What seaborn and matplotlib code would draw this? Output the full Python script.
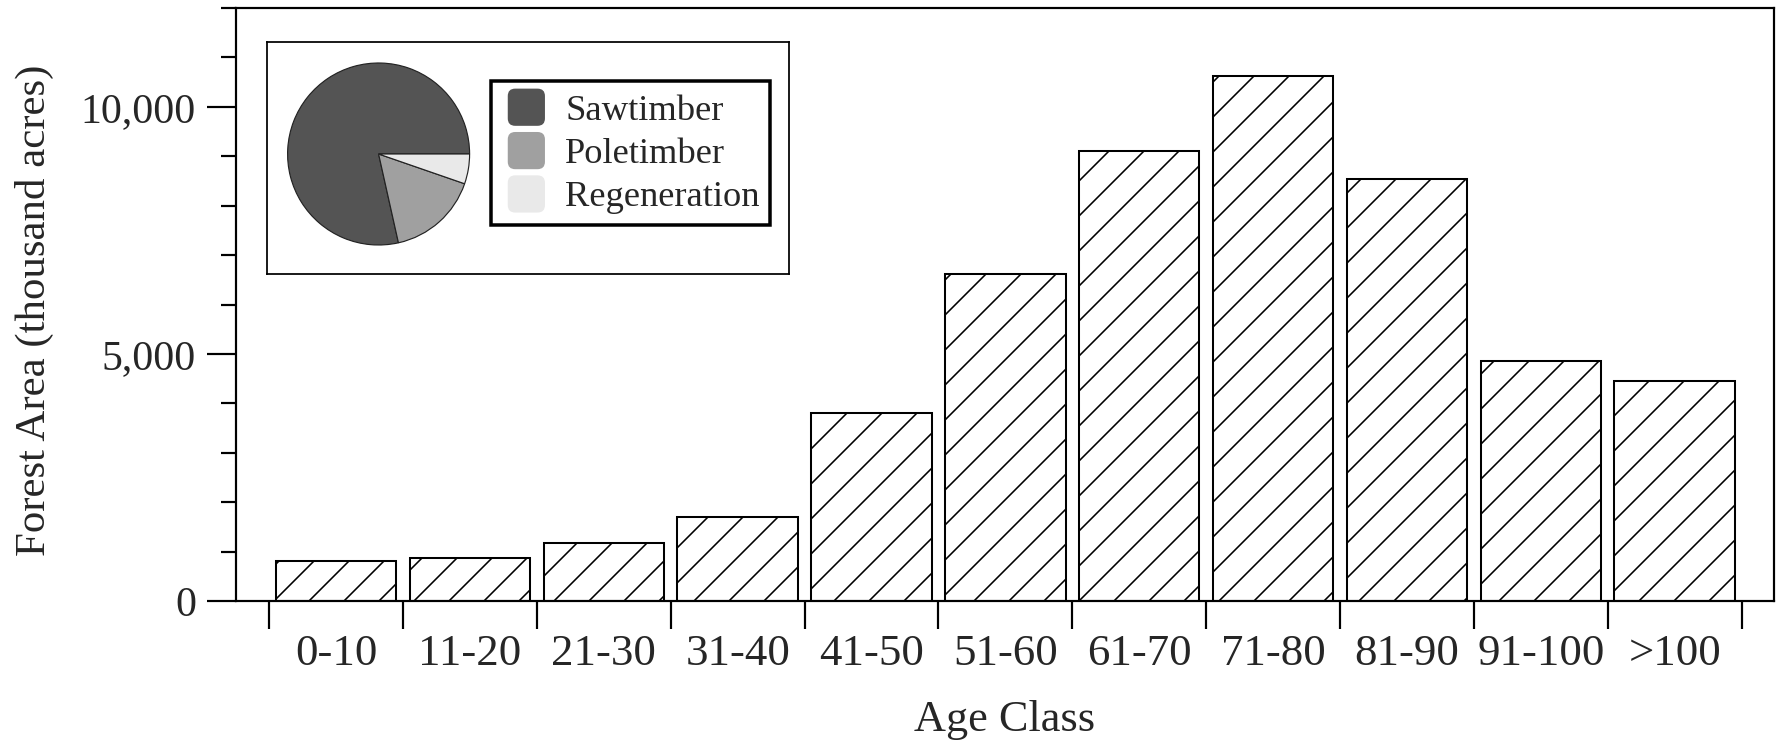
import numpy as np
import pandas as pd
import matplotlib
matplotlib.use("Agg")
import matplotlib.pyplot as plt
import seaborn as sns
from matplotlib.patches import Patch, FancyBboxPatch
from matplotlib.legend_handler import HandlerBase
from matplotlib.ticker import FixedLocator, FuncFormatter

# ---- data ----
age_classes = ['0-10', '11-20', '21-30', '31-40', '41-50', '51-60',
               '61-70', '71-80', '81-90', '91-100', '>100']
forest_area = [815, 880, 1180, 1695, 3810, 6625, 9115, 10625, 8550, 4855, 4450]

pie_labels = ['Sawtimber', 'Poletimber', 'Regeneration']
pie_share = [78.5, 16.2, 5.3]
pie_colors = ['#545454', '#a0a0a0', '#e9e9e9']

y_major = [0, 5000, 10000]

# ---- style ----
sns.set_style('ticks')
plt.rcParams['font.family'] = ['Liberation Serif', 'DejaVu Serif']
plt.rcParams['hatch.linewidth'] = 0.55
plt.rcParams['hatch.color'] = 'black'

DPI = 210
fig = plt.figure(figsize=(1783 / DPI, 744 / DPI), dpi=DPI)
ax = fig.add_axes([0.1322, 0.1922, 0.8626, 0.7970])

df = pd.DataFrame({'age': age_classes, 'area': forest_area})
sns.barplot(data=df, x='age', y='area', ax=ax, color='white', saturation=1,
            edgecolor='black', linewidth=0.7, width=0.9, hatch='//')

ax.set_xlim(-0.75, 10.74)
ax.set_ylim(0, 12000)

for sp in ax.spines.values():
    sp.set_visible(True)
    sp.set_linewidth(0.75)
    sp.set_color('black')

# y ticks
ax.yaxis.set_major_locator(FixedLocator(y_major))
ax.yaxis.set_minor_locator(FixedLocator(np.arange(0, 12001, 1000)))
ax.yaxis.set_major_formatter(FuncFormatter(lambda v, p: f'{int(v):,}'))
ax.tick_params(axis='y', which='major', length=9.9, width=0.75, pad=3.7,
               labelsize=14.3, direction='out', color='black')
ax.tick_params(axis='y', which='minor', length=5.1, width=0.75, direction='out', color='black')

# x ticks: labels at centers, tick marks at boundaries
ax.set_xticks(range(len(age_classes)))
ax.set_xticklabels(age_classes)
ax.xaxis.set_minor_locator(FixedLocator(np.arange(-0.5, len(age_classes), 1.0)))
ax.tick_params(axis='x', which='major', length=0, pad=11.3, labelsize=15.4)
ax.tick_params(axis='x', which='minor', length=9.6, width=0.75, direction='out', color='black')

ax.set_xlabel('Age Class', fontsize=15.2, va='center')
ax.xaxis.set_label_coords(0.5, -0.2)
ax.set_ylabel('Forest Area (thousand acres)', fontsize=14.7, va='center')
ax.yaxis.set_label_coords(-0.131, 0.49)

# ---- inset box ----
box = fig.add_axes([266.7 / 1783, 1 - 274 / 744, (789 - 266.7) / 1783, (274 - 42.3) / 744])
box.set_xticks([])
box.set_yticks([])
box.set_facecolor('white')
for sp in box.spines.values():
    sp.set_linewidth(0.6)
    sp.set_color('black')

# pie
cx, cy, r = 378.6, 154.0, 91.0
pax = fig.add_axes([(cx - r) / 1783, 1 - (cy + r) / 744, 2 * r / 1783, 2 * r / 744])
pax.pie(pie_share, colors=pie_colors, startangle=0, counterclock=True,
        wedgeprops=dict(edgecolor='#222222', linewidth=0.4))
pax.set_xlim(-1.0, 1.0)
pax.set_ylim(-1.0, 1.0)
pax.set_aspect('auto')
pax.axis('off')


class RoundHandler(HandlerBase):
    def create_artists(self, legend, orig_handle, xdescent, ydescent, width, height,
                       fontsize, trans):
        s = 1.14 * min(width, height)
        x0 = -xdescent + (width - s)
        y0 = -ydescent + (height - s) / 2
        p = FancyBboxPatch((x0, y0), s, s,
                           boxstyle=f'round,pad=0,rounding_size={s * 0.2}',
                           facecolor=orig_handle.get_facecolor(), edgecolor='none',
                           transform=trans)
        return [p]


handles = [Patch(facecolor=c, label=l) for c, l in zip(pie_colors, pie_labels)]
leg = fig.legend(handles=handles, loc='upper left',
                 bbox_to_anchor=(491 / 1783, 1 - 80.7 / 744),
                 bbox_transform=fig.transFigure,
                 fontsize=12.5, frameon=True, fancybox=False, framealpha=1,
                 edgecolor='black', handlelength=1.2, handleheight=1.0,
                 handletextpad=0.55, labelspacing=0.18, borderpad=0.28,
                 borderaxespad=0, handler_map={Patch: RoundHandler()})
leg.get_frame().set_linewidth(1.2)
leg.set_zorder(10)

fig.savefig('out.png', dpi=DPI, facecolor='white')
